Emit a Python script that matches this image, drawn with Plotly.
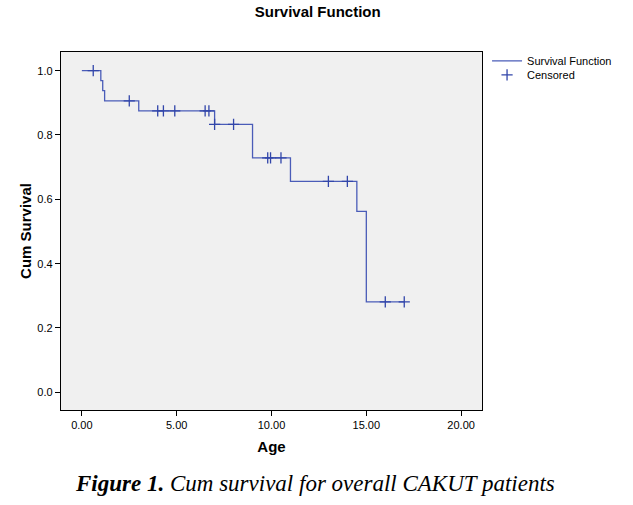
import plotly.graph_objects as go

# Step function (Kaplan-Meier) data
step_age = [0.0, 1.0, 1.1, 1.2, 3.0, 7.0, 9.0, 11.0, 14.5, 15.0, 17.0]
step_surv = [1.0, 0.969, 0.938, 0.906, 0.875, 0.833, 0.729, 0.656, 0.5625, 0.281, 0.281]

# Censored observations
cens_age = [0.6, 2.5, 4.0, 4.3, 4.9, 6.5, 6.7, 7.0, 8.0, 9.8, 9.95, 10.5, 13.0, 14.0, 16.0, 17.0]
cens_surv = [1.0, 0.906, 0.875, 0.875, 0.875, 0.875, 0.875, 0.833, 0.833,
             0.729, 0.729, 0.729, 0.656, 0.656, 0.281, 0.281]

x_ticks = [0, 5, 10, 15, 20]
y_ticks = [0.0, 0.2, 0.4, 0.6, 0.8, 1.0]

line_color = "rgb(74,92,184)"
font_sans = "Liberation Sans, Arial, sans-serif"

fig = go.Figure()
fig.add_trace(go.Scatter(
    x=step_age, y=step_surv, mode="lines", line_shape="hv",
    line=dict(color=line_color, width=1.3), name="Survival Function",
    legend="legend",
))
fig.add_trace(go.Scatter(
    x=cens_age, y=cens_surv, mode="markers",
    marker=dict(symbol="cross-thin", size=8, line=dict(color="rgb(50,70,170)", width=1.3)),
    name="Censored", legend="legend2",
))

legend_common = dict(x=1.012, xanchor="left", yanchor="middle",
                     font=dict(size=11, family=font_sans), bgcolor="rgba(0,0,0,0)",
                     itemwidth=30)

fig.update_layout(
    width=633, height=505,
    margin=dict(l=61, r=151, t=52, b=95, autoexpand=False),
    paper_bgcolor="white", plot_bgcolor="rgb(240,240,240)",
    font=dict(family=font_sans, size=11, color="black"),
    title=dict(text="<b>Survival Function</b>", x=0.502, xanchor="center",
               y=0.976, yanchor="middle", font=dict(size=15, family=font_sans)),
    showlegend=True,
    legend=dict(y=0.975, **legend_common),
    legend2=dict(y=0.936, **legend_common),
    xaxis=dict(range=[-1.1, 21.1], tickvals=x_ticks, tickformat=".2f", automargin=False,
               showgrid=False, zeroline=False, showline=True, linecolor="black",
               linewidth=1.3, mirror=True, ticks="outside", ticklen=5, tickcolor="black",
               title=dict(text="<b>Age</b>", font=dict(size=15), standoff=11)),
    yaxis=dict(range=[-0.055, 1.058], tickvals=y_ticks, tickformat=".1f", automargin=False,
               showgrid=False, zeroline=False, showline=True, linecolor="black",
               linewidth=1.3, mirror=True, ticks="outside", ticklen=5, tickcolor="black",
               title=dict(text="<b>Cum Survival</b>", font=dict(size=15), standoff=2)),
    annotations=[dict(
        text="<b>Figure 1.</b> Cum survival for overall CAKUT patients",
        xref="paper", yref="paper", x=0.604, y=-0.205, xanchor="center", yanchor="middle",
        showarrow=False,
        font=dict(family="Liberation Serif, Times New Roman, serif", size=23,
                  color="black", style="italic"),
    )],
)

fig.write_html("out.html", config={"displayModeBar": False},
               post_script="document.body.style.margin='0';document.body.style.overflow='hidden';")
